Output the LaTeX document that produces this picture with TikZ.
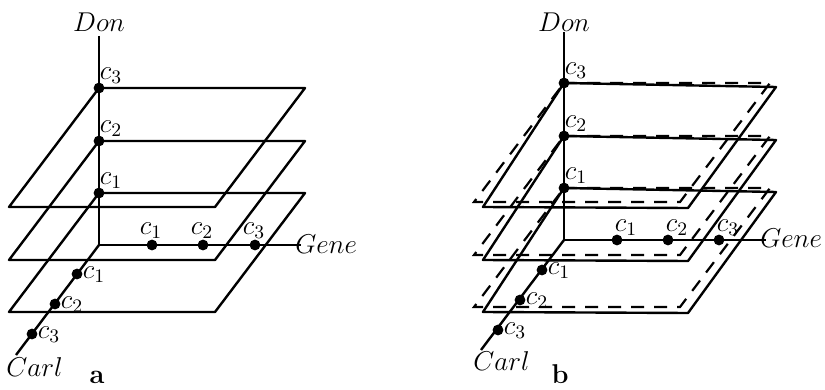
\RequirePackage{fix-cm}
\documentclass[tikz,border=0pt]{standalone}
\usetikzlibrary{calc}
\begin{document}
\fontsize{13.6}{16}\selectfont
\begin{tikzpicture}[x=0.5pt,y=-0.5pt,
  edge/.style={line width=1.2pt, line join=round},
  dashedge/.style={line width=1.1pt, dash pattern=on 6.5pt off 5pt},
  dot/.style={circle, fill=black, inner sep=0pt, minimum size=5.4pt},
  lbl/.style={inner sep=0pt, font=\fontsize{13.6}{16}\selectfont},
  panellbl/.style={inner sep=0pt, font=\fontsize{13.6}{16}\selectfont\bfseries}
]
\useasboundingbox (0,0) rectangle (825,390);

% ---------------- panel a ----------------
\coordinate (aO) at (99,245);
\coordinate (aDonEnd) at (99,36);
\coordinate (aGeneEnd) at (301,245);
\coordinate (aCarlEnd) at (16,355);
\foreach \T/\n in {193/1,141/2,88/3} {
  \coordinate (aTL\n) at (99,\T);
  \coordinate (aTR\n) at (305,\T);
  \coordinate (aBR\n) at (215,\T+119);
  \coordinate (aBL\n) at (9,\T+119);
  \draw[edge] (aTL\n) -- (aTR\n) -- (aBR\n) -- (aBL\n) -- cycle;
}
\draw[edge] (aDonEnd) -- (aO) -- (aGeneEnd);
\draw[edge] (aO) -- (aCarlEnd);
\node[lbl, anchor=base] (aDon) at (99,32) {$Don$};
\node[lbl, anchor=base west] (aGene) at (295,253) {$Gene$};
\node[lbl, anchor=base west] (aCarl) at (6,376) {$Carl$};
\node[panellbl, anchor=base] (aCap) at (97,383) {a};
\foreach \n in {1,2,3} {
  \node[dot] (aD\n) at (aTL\n) {};
  \node[lbl] (aDl\n) at ($(aD\n)+(12,-12)$) {$c_\n$};
}
\foreach \x/\n in {152/1,203/2,255/3} {
  \node[dot] (aG\n) at (\x,245) {};
  \node[lbl] (aGl\n) at ($(aG\n)+(-1,-14)$) {$c_\n$};
}
\foreach \x/\y/\n in {77/274/1,55/304/2,32/334/3} {
  \node[dot] (aC\n) at (\x,\y) {};
  \node[lbl] (aCl\n) at ($(aC\n)+(17,1)$) {$c_\n$};
}

% ---------------- panel b ----------------
\coordinate (bO) at (564,240);
\coordinate (bDonEnd) at (564,32);
\coordinate (bGeneEnd) at (766,240);
\coordinate (bCarlEnd) at (481,350);
\foreach \T/\n in {188/1,136/2,83/3} {
  \coordinate (bTL\n) at (564,\T);
  \coordinate (bTR\n) at (776,\T+4);
  \coordinate (bBR\n) at (688,\T+125);
  \coordinate (bBL\n) at (483,\T+124);
  \coordinate (bdTR\n) at (770,\T);
  \coordinate (bdBR\n) at (680,\T+119);
  \coordinate (bdBL\n) at (474,\T+119);
  \draw[dashedge] (bTL\n) -- (bdTR\n) -- (bdBR\n) -- (bdBL\n) -- cycle;
  \draw[edge] (bTL\n) -- (bTR\n) -- (bBR\n) -- (bBL\n) -- cycle;
}
\draw[edge] (bDonEnd) -- (bO) -- (bGeneEnd);
\draw[edge] (bO) -- (bCarlEnd);
\node[lbl, anchor=base] (bDon) at (564,32) {$Don$};
\node[lbl, anchor=base west] (bGene) at (760,248) {$Gene$};
\node[lbl, anchor=base west] (bCarl) at (473,370) {$Carl$};
\node[panellbl, anchor=base] (bCap) at (560,383) {b};
\foreach \n in {1,2,3} {
  \node[dot] (bD\n) at (bTL\n) {};
  \node[lbl] (bDl\n) at ($(bD\n)+(12,-12)$) {$c_\n$};
}
\foreach \x/\n in {617/1,668/2,719/3} {
  \node[dot] (bG\n) at (\x,240) {};
  \node[lbl] (bGl\n) at ($(bG\n)+(9,-12)$) {$c_\n$};
}
\foreach \x/\y/\n in {542/270/1,520/300/2,498/330/3} {
  \node[dot] (bC\n) at (\x,\y) {};
  \node[lbl] (bCl\n) at ($(bC\n)+(17,1)$) {$c_\n$};
}
\end{tikzpicture}
\end{document}
